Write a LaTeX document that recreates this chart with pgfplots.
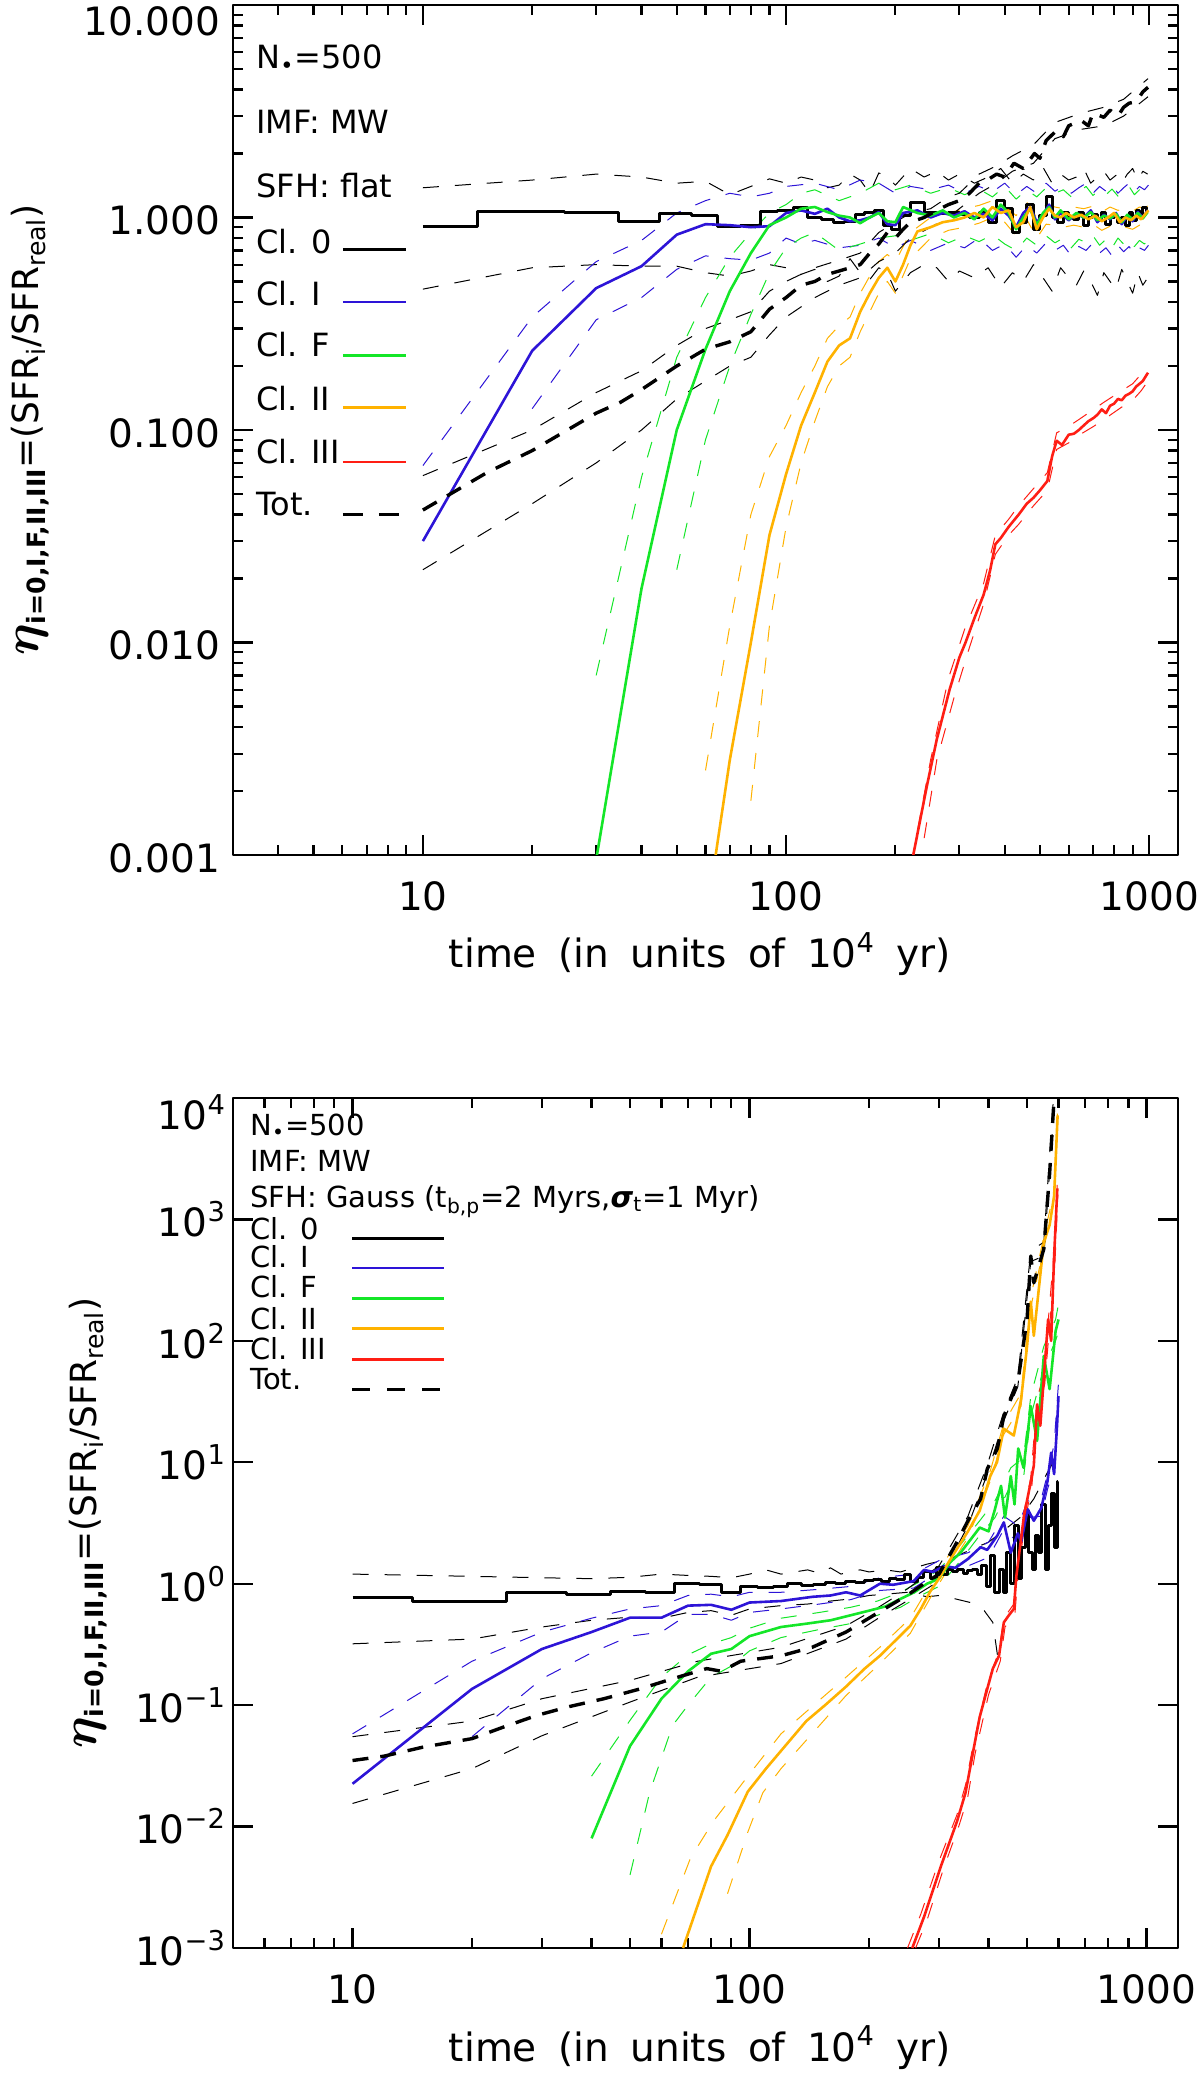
\documentclass[border=0pt]{standalone}
\usepackage{fontspec}
\setmainfont{DejaVu Sans}
\usepackage{pgfplots}
\pgfplotsset{compat=1.18}
\definecolor{cblue}{RGB}{45,20,215}
\definecolor{cgreen}{RGB}{20,230,40}
\definecolor{corange}{RGB}{255,178,0}
\definecolor{cred}{RGB}{255,30,20}
\tikzset{
  sol/.style={line width=1.3pt},
  env/.style={line width=0.5pt, dash pattern=on 8pt off 8pt},
  tot/.style={line width=1.7pt, black, dash pattern=on 8pt off 6pt},
}
\newcommand{\wsp}{\hspace{0.55em}}
\pgfplotsset{
  myaxis/.style={
    scale only axis, width=472.5pt, height=425pt,
    no markers,
    axis line style={line width=1.4pt},
    every tick/.style={black, line width=1.1pt},
    major tick length=10pt, minor tick length=5pt,
    tick align=inside, tick pos=both,
    tick label style={font=\fontsize{19.5}{20}\selectfont},
    xtick={10,100,1000}, xticklabels={10,100,1000},
    xticklabel style={yshift=-9.5pt},
    xmax=1200,
    xlabel={time\wsp(in\wsp units\wsp of\wsp 10\textsuperscript{4}\wsp yr)},
    every axis x label/.style={at={(axis description cs:0.494,0)}, anchor=base, yshift=-56.5pt, font=\fontsize{19.5}{22}\selectfont},
    line join=round,
  }
}
\newcommand{\ylab}{{\fontsize{30}{30}\selectfont\boldmath$\eta$}\textsubscript{\bfseries i=0,I,F,II,III}=(SFR\textsubscript{i}/SFR\textsubscript{real})}
\begin{document}
\begin{tikzpicture}
\useasboundingbox (0,0) rectangle (600pt,1038pt);
%================ TOP PANEL ================
\begin{loglogaxis}[myaxis,
  at={(116.5pt,610.5pt)}, anchor=south west,
  xmin=3, ymin=0.001, ymax=10,
  minor xtick={4,5,6,7,8,9,20,30,40,50,60,70,80,90,200,300,400,500,600,700,800,900},
  ytick={0.001,0.01,0.1,1,10},
  yticklabels={0.001,0.010,0.100,1.000,\raisebox{-14pt}[0pt][0pt]{10.000}},
  minor ytick={0.002,0.003,0.004,0.005,0.006,0.007,0.008,0.009,0.02,0.03,0.04,0.05,0.06,0.07,0.08,0.09,0.2,0.3,0.4,0.5,0.6,0.7,0.8,0.9,2,3,4,5,6,7,8,9},
  yticklabel style={xshift=-3pt, yshift=-1.5pt},
  ylabel={\ylab},
  every axis y label/.style={at={(axis description cs:-0.2148,0.5)}, rotate=90, anchor=center, font=\fontsize{18}{20}\selectfont},
]
% Cl.0 envelopes
\addplot[env, black] coordinates {(10,1.38) (20,1.5) (30,1.6) (40,1.55) (50,1.45) (60,1.48) (70,1.28) (80,1.40) (90,1.52) (100,1.45) (110,1.55) (120,1.50) (130,1.38) (140,1.42) (150,1.60) (160,1.50) (170,1.30) (180,1.62) (190,1.55) (200,1.42) (220,1.7) (240,1.55) (260,1.65) (280,1.5) (300,1.6) (330,1.45) (360,1.55) (390,1.7) (420,1.45) (450,1.6) (480,1.5) (510,1.72) (540,1.45) (570,1.6) (600,1.5) (630,1.55) (660,1.7) (690,1.45) (720,1.55) (750,1.65) (780,1.5) (810,1.58) (840,1.45) (870,1.6) (900,1.7) (930,1.5) (960,1.65) (990,1.6)};
\addplot[env, black] coordinates {(10,0.46) (20,0.58) (30,0.60) (40,0.59) (50,0.59) (60,0.55) (70,0.53) (80,0.56) (90,0.60) (100,0.58) (110,0.54) (120,0.57) (130,0.50) (140,0.53) (150,0.64) (160,0.55) (170,0.51) (180,0.58) (190,0.55) (200,0.45) (220,0.55) (240,0.60) (260,0.58) (280,0.50) (300,0.56) (330,0.52) (360,0.58) (390,0.47) (420,0.55) (450,0.50) (480,0.60) (510,0.52) (540,0.45) (570,0.58) (600,0.52) (630,0.48) (660,0.56) (690,0.50) (720,0.43) (750,0.55) (780,0.50) (810,0.46) (840,0.57) (870,0.50) (900,0.44) (930,0.55) (960,0.48) (990,0.52)};
% Cl.I envelopes
\addplot[env, cblue] coordinates {(10,0.068) (20,0.34) (30,0.62) (40,0.78) (50,1.05) (60,1.2) (70,1.3) (80,1.25) (90,1.3) (100,1.4) (120,1.45) (140,1.35) (160,1.5) (180,1.45) (200,1.3) (220,1.4) (250,1.35) (280,1.42) (310,1.3) (340,1.4) (370,1.32) (400,1.45) (430,1.28) (460,1.4) (490,1.3) (520,1.45) (550,1.33) (580,1.4) (610,1.3) (640,1.38) (670,1.45) (700,1.3) (730,1.4) (760,1.33) (790,1.42) (820,1.3) (850,1.38) (880,1.45) (910,1.32) (940,1.4) (970,1.35) (995,1.42)};
\addplot[env, cblue] coordinates {(20,0.126) (30,0.33) (40,0.42) (50,0.57) (60,0.66) (70,0.64) (80,0.63) (90,0.68) (100,0.80) (110,0.75) (120,0.78) (140,0.72) (160,0.74) (180,0.80) (200,0.72) (220,0.78) (250,0.70) (280,0.76) (310,0.72) (340,0.80) (370,0.70) (400,0.75) (430,0.65) (460,0.74) (490,0.68) (520,0.76) (550,0.70) (580,0.74) (610,0.66) (640,0.73) (670,0.70) (700,0.76) (730,0.68) (760,0.72) (790,0.66) (820,0.74) (850,0.69) (880,0.73) (910,0.67) (940,0.72) (970,0.70) (995,0.74)};
% Cl.F envelopes
\addplot[env, cgreen] coordinates {(30,0.007) (40,0.06) (50,0.22) (60,0.42) (70,0.65) (80,0.85) (90,1.05) (100,1.15) (110,1.3) (120,1.35) (140,1.2) (160,1.3) (180,1.45) (200,1.35) (220,1.42) (250,1.3) (280,1.38) (310,1.28) (340,1.36) (370,1.25) (400,1.4) (430,1.22) (460,1.35) (490,1.25) (520,1.38) (550,1.3) (580,1.35) (610,1.25) (640,1.32) (670,1.4) (700,1.27) (730,1.35) (760,1.28) (790,1.36) (820,1.26) (850,1.33) (880,1.4) (910,1.28) (940,1.35) (970,1.3) (995,1.36)};
\addplot[env, cgreen] coordinates {(50,0.022) (60,0.09) (70,0.2) (80,0.35) (90,0.55) (100,0.72) (110,0.8) (120,0.85) (140,0.70) (160,0.75) (180,0.80) (200,0.82) (220,0.78) (250,0.84) (280,0.76) (310,0.82) (340,0.77) (370,0.83) (400,0.75) (430,0.70) (460,0.80) (490,0.74) (520,0.82) (550,0.76) (580,0.80) (610,0.72) (640,0.79) (670,0.76) (700,0.82) (730,0.74) (760,0.79) (790,0.72) (820,0.80) (850,0.75) (880,0.79) (910,0.73) (940,0.78) (970,0.75) (995,0.79)};
% Cl.II envelopes
\addplot[env, corange] coordinates {(60,0.0025) (70,0.012) (80,0.04) (90,0.075) (100,0.105) (110,0.15) (120,0.2) (130,0.27) (140,0.31) (150,0.34) (160,0.44) (170,0.53) (180,0.62) (190,0.67) (200,0.62) (220,0.85) (250,1.0) (280,1.05) (310,1.1) (340,1.14) (370,1.2) (400,1.13) (430,1.02) (460,1.18) (490,1.0) (520,1.15) (550,1.12) (580,1.1) (620,1.12) (660,1.1) (700,1.13) (740,1.06) (780,1.12) (820,1.08) (860,1.1) (900,1.07) (940,1.12) (980,1.1) (995,1.16)};
\addplot[env, corange] coordinates {(80,0.0018) (90,0.012) (100,0.035) (110,0.07) (120,0.11) (130,0.16) (140,0.2) (150,0.22) (160,0.29) (170,0.36) (180,0.44) (190,0.50) (200,0.44) (220,0.64) (250,0.80) (280,0.87) (310,0.9) (340,0.94) (370,1.0) (400,0.95) (430,0.82) (460,0.98) (490,0.8) (520,0.93) (550,0.92) (580,0.9) (620,0.92) (660,0.9) (700,0.93) (740,0.87) (780,0.91) (820,0.88) (860,0.9) (900,0.88) (940,0.92) (980,0.9) (995,0.96)};
% Cl.III envelopes
\addplot[env, cred] coordinates {(230,0.0013) (250,0.0028) (280,0.0068) (310,0.0115) (350,0.019) (377,0.032) (410,0.038) (437,0.044) (480,0.053) (524,0.063) (556,0.097) (600,0.104) (650,0.114) (703,0.125) (750,0.135) (800,0.145) (850,0.155) (900,0.165) (950,0.183) (992,0.20)};
\addplot[env, cred] coordinates {(240,0.0012) (260,0.0028) (290,0.0055) (320,0.0095) (350,0.0152) (377,0.026) (410,0.032) (437,0.036) (480,0.044) (524,0.052) (556,0.081) (600,0.087) (650,0.096) (703,0.104) (750,0.112) (800,0.121) (850,0.13) (900,0.138) (950,0.153) (992,0.17)};
% Tot envelopes
\addplot[env, black] coordinates {(10,0.061) (20,0.10) (30,0.15) (40,0.19) (50,0.25) (60,0.30) (70,0.33) (80,0.36) (90,0.45) (100,0.50) (120,0.58) (140,0.63) (160,0.68) (180,0.85) (200,0.95) (220,1.05) (250,1.1) (280,1.25) (300,1.3) (340,1.6) (380,1.75) (420,1.95) (480,2.2) (550,2.8) (650,3.1) (750,3.3) (850,3.6) (992,4.5)};
\addplot[env, black] coordinates {(10,0.022) (20,0.045) (30,0.07) (40,0.10) (50,0.14) (60,0.17) (70,0.20) (80,0.22) (90,0.28) (100,0.34) (120,0.42) (140,0.48) (160,0.52) (180,0.62) (200,0.68) (220,0.8) (250,0.9) (280,1.0) (300,1.1) (340,1.3) (380,1.45) (420,1.65) (480,1.8) (550,2.35) (650,2.6) (750,2.7) (850,3.0) (992,3.7)};
% Cl.0 solid step
\addplot[sol, black, line width=1.5pt, const plot mark mid] coordinates {(10,0.91) (20,1.07) (30,1.06) (40,0.96) (50,1.04) (60,1.02) (70,0.91) (80,0.92) (90,1.07) (100,1.08) (110,1.11) (120,1.0) (130,0.98) (140,0.95) (150,0.96) (160,1.03) (170,1.06) (180,1.08) (190,0.92) (200,0.88) (210,1.02) (230,1.18) (250,1.05) (270,1.04) (290,1.05) (310,1.03) (330,1.0) (350,1.05) (370,0.95) (390,1.2) (410,1.1) (430,0.85) (450,0.95) (470,1.15) (490,0.88) (510,1.02) (530,1.25) (550,1.0) (570,0.95) (590,1.05) (610,1.0) (630,0.98) (650,1.05) (670,0.92) (690,1.0) (710,1.03) (730,0.98) (750,1.05) (770,0.93) (790,1.0) (810,1.02) (830,0.95) (850,1.0) (870,0.92) (890,1.05) (910,0.97) (930,1.08) (950,1.0) (970,1.12) (990,1.05)};
% Cl.I
\addplot[sol, cblue] coordinates {(10,0.030) (20,0.236) (30,0.465) (40,0.59) (50,0.83) (60,0.93) (70,0.92) (80,0.90) (90,0.91) (100,1.05) (110,1.08) (120,1.04) (130,1.1) (140,1.0) (150,0.96) (160,0.97) (170,1.0) (180,1.06) (190,0.93) (200,0.92) (210,1.05) (230,1.08) (250,1.0) (270,1.05) (290,1.02) (310,1.07) (330,1.0) (350,1.04) (370,0.97) (390,1.1) (410,1.02) (430,0.9) (450,1.05) (470,1.12) (490,0.95) (510,1.03) (530,1.15) (550,0.98) (570,1.05) (600,0.97) (630,1.04) (660,1.0) (690,1.08) (720,0.95) (750,1.03) (780,0.98) (810,1.05) (840,0.93) (870,1.02) (900,0.96) (930,1.06) (960,1.0) (990,1.08)};
% Cl.F
\addplot[sol, cgreen] coordinates {(30,0.00095) (40,0.018) (50,0.10) (60,0.24) (70,0.45) (80,0.68) (90,0.92) (100,1.0) (110,1.1) (120,1.12) (130,1.06) (140,1.02) (150,1.0) (160,0.94) (170,1.0) (180,1.05) (190,0.96) (200,0.95) (210,1.12) (230,1.05) (250,1.02) (270,1.08) (290,1.0) (310,1.05) (330,0.98) (350,1.1) (370,1.0) (390,1.15) (410,1.05) (430,0.88) (450,1.0) (470,1.1) (490,0.92) (510,1.05) (530,1.12) (550,1.0) (570,1.08) (600,0.98) (630,1.05) (660,1.0) (690,1.06) (720,0.97) (750,1.02) (780,0.99) (810,1.04) (840,0.95) (870,1.03) (900,0.98) (930,1.05) (960,0.99) (990,1.06)};
% Cl.II
\addplot[sol, corange] coordinates {(64,0.001) (70,0.0028) (80,0.010) (90,0.032) (100,0.062) (110,0.105) (120,0.15) (130,0.21) (140,0.25) (150,0.27) (160,0.36) (170,0.44) (180,0.52) (190,0.58) (200,0.50) (210,0.60) (220,0.74) (230,0.86) (250,0.90) (270,0.95) (290,0.97) (310,1.0) (330,1.05) (350,1.0) (370,1.12) (390,1.05) (410,1.08) (430,0.9) (450,0.95) (470,1.12) (490,0.88) (510,1.0) (530,1.1) (550,1.02) (570,1.0) (590,1.05) (620,1.0) (650,1.03) (680,0.98) (710,1.02) (740,0.96) (770,1.0) (800,1.05) (830,0.95) (860,1.0) (890,0.97) (920,1.02) (950,0.98) (980,1.05) (995,1.08)};
% Cl.III
\addplot[sol, cred] coordinates {(224,0.001) (244,0.0021) (260,0.0035) (282,0.006) (300,0.0085) (312,0.010) (330,0.013) (350,0.0168) (365,0.022) (377,0.029) (390,0.031) (410,0.035) (437,0.040) (460,0.045) (480,0.048) (500,0.052) (524,0.0575) (540,0.075) (556,0.089) (575,0.085) (600,0.095) (620,0.096) (640,0.10) (660,0.105) (680,0.11) (703,0.114) (720,0.118) (740,0.125) (760,0.12) (780,0.13) (800,0.133) (820,0.14) (840,0.138) (860,0.145) (880,0.148) (900,0.152) (920,0.16) (940,0.165) (960,0.17) (980,0.18) (992,0.186)};
% Tot
\addplot[tot] coordinates {(10,0.042) (15,0.063) (20,0.080) (25,0.10) (30,0.12) (35,0.135) (40,0.155) (50,0.20) (60,0.24) (70,0.26) (80,0.29) (90,0.37) (100,0.42) (110,0.48) (120,0.50) (130,0.54) (140,0.56) (150,0.58) (160,0.60) (170,0.68) (180,0.75) (190,0.85) (200,0.80) (210,0.88) (220,0.95) (240,1.0) (260,1.08) (280,1.15) (300,1.2) (320,1.3) (340,1.45) (358,1.5) (380,1.6) (400,1.55) (424,1.8) (450,1.7) (483,2.0) (500,1.9) (520,2.3) (556,2.57) (580,2.4) (600,2.7) (648,2.87) (680,2.7) (700,3.1) (750,2.96) (780,3.2) (820,3.0) (850,3.3) (880,3.45) (920,3.5) (960,3.9) (992,4.1)};
% legend
\begin{scope}[every node/.style={anchor=base west, font=\fontsize{16}{19}\selectfont, inner sep=0pt}]
\node at (rel axis cs:0.0243,0.925) {N\textsubscript{•}=500};
\node at (rel axis cs:0.0243,0.849) {IMF:  MW};
\node at (rel axis cs:0.0243,0.773) {SFH:  flat};
\node at (rel axis cs:0.0243,0.708) {Cl.  0};
\node at (rel axis cs:0.0243,0.647) {Cl.  I};
\node at (rel axis cs:0.0243,0.586) {Cl.  F};
\node at (rel axis cs:0.0243,0.5235) {Cl.  II};
\node at (rel axis cs:0.0243,0.460) {Cl.  III};
\node at (rel axis cs:0.0243,0.399) {Tot.};
\end{scope}
\draw[black, line width=1.4pt] (rel axis cs:0.1164,0.712) -- (rel axis cs:0.1831,0.712);
\draw[cblue, line width=1.4pt] (rel axis cs:0.1164,0.6506) -- (rel axis cs:0.1831,0.6506);
\draw[cgreen, line width=1.4pt] (rel axis cs:0.1164,0.588) -- (rel axis cs:0.1831,0.588);
\draw[corange, line width=1.4pt] (rel axis cs:0.1164,0.526) -- (rel axis cs:0.1831,0.526);
\draw[cred, line width=1.4pt] (rel axis cs:0.1164,0.4624) -- (rel axis cs:0.1831,0.4624);
\draw[black, line width=1.6pt, dash pattern=on 10pt off 8pt] (rel axis cs:0.1164,0.401) -- (rel axis cs:0.1831,0.401);
\end{loglogaxis}
%================ BOTTOM PANEL ================
\begin{loglogaxis}[myaxis,
  at={(116.5pt,64pt)}, anchor=south west,
  xmin=5, ymin=0.001, ymax=10000,
  minor xtick={6,7,8,9,20,30,40,50,60,70,80,90,200,300,400,500,600,700,800,900},
  ytick={0.001,0.01,0.1,1,10,100,1000,10000},
  yticklabels={10\textsuperscript{−3},10\textsuperscript{−2},10\textsuperscript{−1},10\textsuperscript{0},10\textsuperscript{1},10\textsuperscript{2},10\textsuperscript{3},\raisebox{-16pt}[0pt][0pt]{10\textsuperscript{4}}},
  yminorticks=false,
  ylabel={\ylab},
  every axis y label/.style={at={(axis description cs:-0.153,0.5)}, rotate=90, anchor=center, font=\fontsize{18}{20}\selectfont},
]
% Cl.0 envelopes
\addplot[env, black] coordinates {(10,1.2) (20,1.15) (30,1.12) (40,1.1) (50,1.13) (60,1.2) (70,1.17) (80,1.15) (90,1.12) (100,1.2) (110,1.3) (120,1.2) (130,1.25) (140,1.3) (150,1.22) (160,1.35) (170,1.2) (180,1.27) (190,1.3) (200,1.25) (220,1.3) (240,1.25) (280,1.45) (320,1.6) (360,1.9) (400,2.2) (440,2.8) (480,3.5) (520,5) (560,8) (600,12)};
\addplot[env, black] coordinates {(10,0.32) (20,0.35) (30,0.44) (40,0.50) (50,0.53) (60,0.52) (70,0.58) (80,0.60) (90,0.55) (100,0.62) (120,0.66) (140,0.68) (160,0.72) (180,0.75) (200,0.8) (220,0.82) (250,0.85) (280,0.78) (300,0.8) (330,0.75) (360,0.7) (390,0.6) (410,0.48) (421,0.26)};
% Cl.I envelopes
\addplot[env, cblue] coordinates {(10,0.058) (20,0.23) (30,0.40) (40,0.52) (50,0.62) (60,0.66) (70,0.80) (80,0.82) (90,0.78) (100,0.85) (120,0.85) (150,0.9) (180,0.95) (213,1.12) (259,1.2) (300,1.55) (355,1.8) (400,2.2) (437,3.6) (474,3.0) (502,4.8) (543,5.0) (563,8) (585,14) (600,45)};
\addplot[env, cblue] coordinates {(20,0.055) (30,0.165) (40,0.27) (50,0.37) (60,0.40) (70,0.56) (80,0.56) (90,0.50) (100,0.58) (120,0.62) (150,0.68) (180,0.74) (213,0.88) (259,0.92) (300,1.25) (355,1.4) (400,1.65) (437,2.8) (474,2.2) (502,3.5) (543,3.6) (563,6) (585,9) (600,28)};
% Cl.F envelopes
\addplot[env, cgreen] coordinates {(40,0.026) (50,0.075) (60,0.17) (70,0.26) (80,0.32) (90,0.36) (100,0.43) (120,0.52) (150,0.58) (180,0.64) (210,0.72) (240,0.85) (270,1.05) (300,1.3) (340,2.1) (380,3.3) (415,4.8) (455,9) (490,11) (511,35) (551,90) (590,150) (600,200)};
\addplot[env, cgreen] coordinates {(50,0.004) (56,0.019) (64,0.068) (70,0.10) (80,0.17) (90,0.21) (100,0.28) (120,0.36) (150,0.42) (180,0.47) (210,0.55) (240,0.64) (270,0.80) (300,0.95) (340,1.55) (380,2.5) (415,3.5) (455,6.5) (490,7.5) (511,24) (551,60) (590,100) (600,120)};
% Cl.II envelopes
\addplot[env, corange] coordinates {(60,0.0013) (71,0.0055) (81,0.011) (99,0.026) (120,0.058) (150,0.11) (175,0.17) (213,0.30) (254,0.52) (285,0.98) (313,1.6) (355,3.0) (404,8.5) (437,21) (483,37) (511,230) (551,720) (585,1700) (597,8000)};
\addplot[env, corange] coordinates {(88,0.0028) (99,0.009) (108,0.019) (120,0.03) (150,0.068) (175,0.12) (213,0.22) (254,0.39) (285,0.76) (313,1.25) (355,2.4) (404,7.0) (437,17) (483,29) (511,190) (551,580) (585,1400) (597,6500)};
% Cl.III envelopes
\addplot[env, cred] coordinates {(250,0.001) (270,0.0019) (300,0.0052) (333,0.0125) (350,0.022) (367,0.05) (397,0.15) (425,0.28) (437,0.52) (463,0.68) (470,1.25) (491,3.9) (511,7.5) (530,33) (551,54) (585,550) (596,2000)};
\addplot[env, cred] coordinates {(262,0.001) (280,0.0017) (308,0.0045) (337,0.0102) (354,0.017) (370,0.04) (400,0.122) (428,0.23) (440,0.44) (466,0.56) (473,1.05) (494,3.3) (514,6.3) (533,27) (554,44) (588,450) (598,1600)};
% Tot envelopes
\addplot[env, black] coordinates {(10,0.055) (20,0.074) (30,0.113) (50,0.16) (74,0.23) (120,0.30) (175,0.45) (213,0.65) (249,0.9) (300,1.4) (355,3.6) (397,9.5) (437,26) (474,50) (511,550) (551,650) (585,12000)};
\addplot[env, black] coordinates {(10,0.0155) (20,0.030) (30,0.056) (50,0.106) (74,0.17) (120,0.22) (175,0.35) (213,0.53) (249,0.72) (300,1.05) (355,3.0) (397,8.0) (437,22) (474,42) (511,450) (551,500) (585,8500)};
% Cl.0 solid step
\addplot[sol, black, line width=1.5pt, const plot mark mid] coordinates {(10,0.77) (20,0.71) (30,0.84) (40,0.81) (50,0.86) (60,0.84) (70,1.0) (80,0.99) (90,0.84) (100,0.95) (110,0.93) (120,0.95) (130,1.0) (140,0.97) (150,0.98) (160,1.02) (170,1.0) (180,1.05) (190,1.02) (200,1.06) (210,1.08) (220,1.05) (230,1.1) (240,1.08) (250,1.2) (260,1.05) (270,1.12) (280,1.25) (290,1.1) (300,1.35) (310,1.2) (320,1.3) (330,1.25) (340,1.3) (350,1.22) (360,1.28) (370,1.3) (380,1.2) (390,1.4) (400,0.95) (410,1.7) (420,0.85) (430,1.3) (440,0.85) (450,1.8) (460,1.0) (470,3.0) (480,1.1) (490,2.0) (500,4.0) (510,1.8) (520,1.3) (530,2.5) (540,1.8) (550,4.5) (560,1.3) (570,3.0) (580,5.5) (590,2.0) (600,7.0)};
% Cl.I
\addplot[sol, cblue] coordinates {(10,0.0225) (20,0.136) (30,0.29) (40,0.40) (50,0.525) (60,0.525) (70,0.66) (80,0.67) (90,0.61) (100,0.70) (120,0.72) (144,0.78) (160,0.80) (175,0.85) (190,0.80) (213,1.0) (230,0.98) (259,1.05) (275,1.3) (290,1.25) (309,1.4) (330,1.35) (355,1.6) (382,2.0) (397,1.9) (421,2.5) (437,3.2) (455,1.8) (474,2.6) (483,2.2) (502,4.1) (520,3.3) (543,4.2) (563,7.0) (575,12) (585,8) (595,20) (600,35)};
% Cl.F
\addplot[sol, cgreen] coordinates {(40,0.008) (50,0.046) (60,0.113) (70,0.19) (80,0.265) (90,0.29) (100,0.37) (120,0.44) (140,0.47) (160,0.50) (180,0.55) (200,0.60) (220,0.65) (240,0.75) (260,0.85) (280,1.0) (300,1.1) (320,1.5) (340,1.8) (360,2.3) (380,2.9) (400,2.7) (415,4.1) (430,6.4) (440,3.5) (455,7.7) (465,4.5) (475,13) (490,9) (511,29) (530,15) (551,75) (570,40) (590,120) (600,150)};
% Cl.II
\addplot[sol, corange] coordinates {(68,0.001) (80,0.0047) (88,0.0085) (99,0.0194) (110,0.03) (120,0.042) (139,0.074) (155,0.10) (175,0.142) (195,0.20) (213,0.255) (235,0.35) (254,0.45) (270,0.62) (285,0.86) (300,1.1) (313,1.4) (335,2.0) (355,2.7) (380,4.0) (404,7.7) (420,10) (437,18.9) (463,16.6) (483,33) (500,90) (511,210) (520,110) (551,650) (570,900) (585,1560) (597,7200)};
% Cl.III
\addplot[sol, cred] coordinates {(257,0.001) (275,0.0018) (304,0.0048) (333,0.011) (350,0.019) (367,0.044) (380,0.08) (397,0.136) (410,0.2) (425,0.255) (437,0.48) (450,0.55) (463,0.62) (470,1.16) (491,3.6) (511,6.9) (520,9.4) (530,30) (540,20) (551,49) (565,150) (575,100) (585,500) (596,1800)};
% Tot
\addplot[tot] coordinates {(10,0.035) (12,0.038) (15,0.045) (20,0.053) (24,0.066) (29,0.082) (35,0.097) (43,0.113) (53,0.136) (64,0.165) (78,0.20) (85,0.19) (95,0.23) (120,0.255) (144,0.30) (175,0.40) (213,0.59) (249,0.80) (275,1.0) (300,1.2) (333,2.2) (355,3.3) (382,5.0) (397,8.8) (421,13) (437,24) (474,46) (500,150) (511,500) (520,300) (551,570) (570,2400) (585,10000) (592,30000)};
% legend
\begin{scope}[every node/.style={anchor=base west, font=\fontsize{14.5}{17}\selectfont, inner sep=0pt}]
\node at (rel axis cs:0.018,0.956) {N\textsubscript{•}=500};
\node at (rel axis cs:0.018,0.914) {IMF:  MW};
\node at (rel axis cs:0.018,0.871) {SFH:  Gauss  (t\textsubscript{b,p}=2  Myrs,{\bfseries\itshape σ}\textsubscript{t}=1  Myr)};
\node at (rel axis cs:0.018,0.834) {Cl.  0};
\node at (rel axis cs:0.018,0.8006) {Cl.  I};
\node at (rel axis cs:0.018,0.765) {Cl.  F};
\node at (rel axis cs:0.018,0.728) {Cl.  II};
\node at (rel axis cs:0.018,0.6918) {Cl.  III};
\node at (rel axis cs:0.018,0.657) {Tot.};
\end{scope}
\draw[black, line width=1.4pt] (rel axis cs:0.126,0.835) -- (rel axis cs:0.2233,0.835);
\draw[cblue, line width=1.4pt] (rel axis cs:0.126,0.80) -- (rel axis cs:0.2233,0.80);
\draw[cgreen, line width=1.4pt] (rel axis cs:0.126,0.764) -- (rel axis cs:0.2233,0.764);
\draw[corange, line width=1.4pt] (rel axis cs:0.126,0.7287) -- (rel axis cs:0.2233,0.7287);
\draw[cred, line width=1.4pt] (rel axis cs:0.126,0.6926) -- (rel axis cs:0.2233,0.6926);
\draw[black, line width=1.6pt, dash pattern=on 9pt off 8.5pt] (rel axis cs:0.126,0.657) -- (rel axis cs:0.2233,0.657);
\end{loglogaxis}
\end{tikzpicture}
\end{document}
